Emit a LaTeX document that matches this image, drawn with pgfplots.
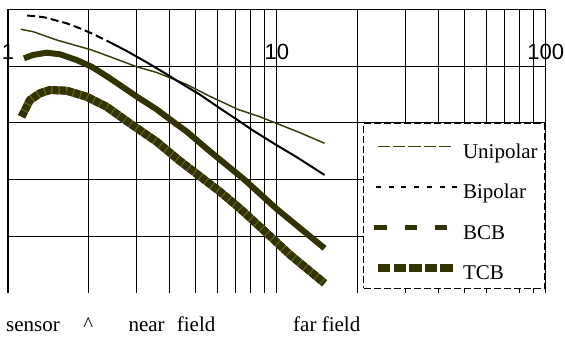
\documentclass[border=0pt]{standalone}
\usepackage{pgfplots}
\pgfplotsset{compat=1.18}
\usepackage{fontspec}
\setmainfont{Liberation Serif}
\newfontfamily\ticksf{Liberation Sans}
\definecolor{uni}{HTML}{3C3C0C}
\definecolor{olv}{HTML}{333300}
\definecolor{olvl}{HTML}{66662A}
\begin{document}
\begin{tikzpicture}
\begin{axis}[
  set layers,
  name=ax, scale only axis, width=537.7pt, height=283.5pt,
  xmode=log, xmin=1, xmax=100, ymin=0, ymax=5,
  xtick={1,10,100}, xticklabels={1,10,100},
  minor xtick={2,3,4,5,6,7,8,9,20,30,40,50,60,80,90},
  ytick={1,2,3,4,5}, yticklabels={{},{},{},{},{}},
  grid=both,
  grid style={black, line width=1.1pt},
  minor grid style={black, line width=1.1pt},
  major grid style={black, line width=1.1pt},
  major tick length=0pt, minor tick length=0pt,
  axis line style={draw=none},
  xticklabel pos=upper,
  xticklabel style={font=\ticksf\fontsize{22}{22}\selectfont, anchor=base, yshift=-50.5pt, inner sep=0pt},
  legend cell align=left,
  legend style={at={(1,0.6)}, anchor=north east, fill=white, draw=black,
    line width=1.3pt, dash pattern=on 7pt off 3pt,
    inner xsep=8pt, inner ysep=4pt, row sep=4.3pt, column sep=4pt,
    font=\fontsize{21}{25}\selectfont,
    nodes={inner xsep=0pt, inner ysep=0pt, text height=31pt, text depth=5pt, text width=74pt}},
]
\addlegendimage{legend image code/.code={\draw[uni, line width=1.3pt, dash pattern=on 12.3pt off 3pt] (3.7pt,-1pt) -- (80pt,-1pt);}}
\addlegendentry{Unipolar}
\addlegendimage{legend image code/.code={\draw[black, line width=2pt, dash pattern=on 5pt off 7.7pt] (2pt,-1.3pt) -- (84pt,-1.3pt);}}
\addlegendentry{Bipolar}
\addlegendimage{legend image code/.code={\draw[olv, line width=5pt, dash pattern=on 12.5pt off 18pt] (0pt,-1.7pt) -- (73pt,-1.7pt);}}
\addlegendentry{BCB}
\addlegendimage{legend image code/.code={\draw[olv, line width=8pt, dash pattern=on 12.3pt off 3.3pt] (4pt,-2pt) -- (79pt,-2pt);}}
\addlegendentry{TCB}

% grid line at x = 70 (above the legend only)
\draw[black, line width=1.1pt] (rel axis cs:0.92255,0.6) -- (rel axis cs:0.92255,1);

% Unipolar
\addplot[uni, line width=1.5pt, line join=round, forget plot] coordinates {
(1.115,4.651) (1.242,4.608) (1.517,4.462) (2.046,4.286) (2.393,4.168) (3.007,3.991)
(3.568,3.89) (4.611,3.68) (5.629,3.47) (7.15,3.24) (8.632,3.11) (9.957,2.993)
(12.15,2.83) (15.05,2.64)};
% Bipolar (dashed start)
\addplot[black, line width=2pt, dash pattern=on 8pt off 4pt, forget plot] coordinates {
(1.177,4.891) (1.24,4.888) (1.372,4.86) (1.652,4.757) (1.851,4.668) (2.046,4.58) (2.393,4.422)};
\addplot[black, line width=2pt, line join=round, forget plot] coordinates {
(2.393,4.422) (2.76,4.27) (3.276,4.07) (3.887,3.86) (4.4,3.70) (5.168,3.50)
(6.132,3.26) (7.15,3.05) (8.13,2.87) (9.957,2.61) (11.82,2.40) (15.05,2.081)};
% BCB
\addplot[olv, line width=6pt, line join=round, forget plot] coordinates {
(1.147,4.139) (1.239,4.198) (1.393,4.238) (1.561,4.21) (1.8,4.109) (2.046,3.991)
(2.393,3.787) (3.0,3.47) (3.568,3.24) (4.17,3.0) (4.611,2.85) (5.63,2.50)
(7.527,2.011) (9.957,1.487) (12.15,1.15) (15.05,0.788)};
% TCB
\addplot[olvl, line width=8pt, line join=round, forget plot] coordinates {
(1.124,3.109) (1.207,3.404) (1.315,3.522) (1.432,3.58) (1.652,3.568) (1.96,3.462)
(2.326,3.286) (2.839,2.993) (3.568,2.67) (4.355,2.33) (6.132,1.79) (7.273,1.494)
(9.142,1.063) (11.16,0.68) (15.05,0.171)};
\addplot[olv, line width=8pt, line join=round, dash pattern=on 6pt off 1.3pt, forget plot] coordinates {
(1.124,3.109) (1.207,3.404) (1.315,3.522) (1.432,3.58) (1.652,3.568) (1.96,3.462)
(2.326,3.286) (2.839,2.993) (3.568,2.67) (4.355,2.33) (6.132,1.79) (7.273,1.494)
(9.142,1.063) (11.16,0.68) (15.05,0.171)};
\end{axis}
\begin{scope}[every node/.style={anchor=base west, inner sep=0pt, font=\fontsize{21}{25}\selectfont}]
\node at ([shift={(-2pt,-39pt)}]ax.south west) {sensor};
\node[anchor=base] at ([shift={(80.3pt,-39pt)}]ax.south west) {\textasciicircum};
\node at ([shift={(120.3pt,-39pt)}]ax.south west) {near};
\node at ([shift={(168.7pt,-39pt)}]ax.south west) {field};
\node at ([shift={(285pt,-39pt)}]ax.south west) {far field};
\end{scope}
\pgfresetboundingbox
\path[use as bounding box] ([shift={(-8pt,-45pt)}]ax.south west) rectangle ([shift={(19.3pt,9.5pt)}]ax.north east);
\end{tikzpicture}
\end{document}
